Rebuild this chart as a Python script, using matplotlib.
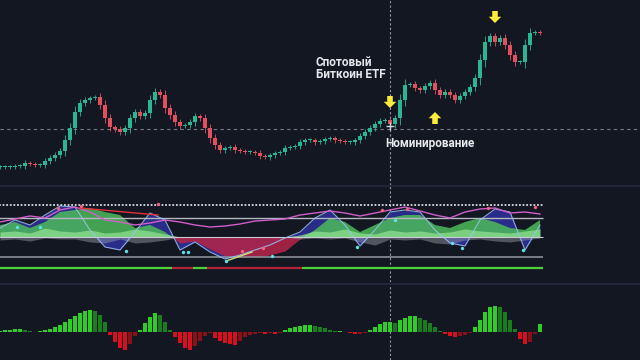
import numpy as np
import matplotlib.pyplot as plt
from matplotlib.lines import Line2D

# price closes, one candle per step (arbitrary units)
closes = [18, 18, 18, 19, 19, 22, 21, 20, 20, 24, 27, 30, 34, 45, 57, 73, 82, 85, 87, 88,
          80, 67, 58, 56, 53, 57, 67, 73, 69, 72, 85, 93, 90, 77, 70, 63, 59, 60, 63, 69,
          67, 57, 47, 40, 35, 37, 38, 35, 34, 33, 33, 32, 29, 28, 30, 32, 33, 37, 38, 39,
          43, 45, 45, 43, 44, 46, 47, 45, 44, 43, 43, 45, 49, 53, 57, 61, 64, 65, 61, 67,
          85, 100, 101, 97, 95, 99, 102, 95, 90, 93, 90, 85, 89, 93, 98, 107, 125, 143, 149, 143,
          147, 140, 130, 123, 123, 140, 152, 153, 152]

# histogram (momentum) per candle
hist = [1, 2, 2, 3, 3, 2, 1, 0.5, 1, 2, 3, 5, 7, 10, 13, 16, 19, 21, 22, 21,
        17, 10, -3, -10, -16, -18, -12, -4, 2, 9, 15, 19, 17, 10, 2, -5, -11, -16, -18, -14,
        -9, -4, -1, -6, -9, -11, -12, -13, -9, -5, -3, -2, -1, -2, -1, -2, -1, 2, 4, 5,
        6, 7, 7, 6, 5, 4, 2, 1, 1, 0.5, -1, -2, -1.5, -0.5, 2, 5, 8, 10, 10, 9,
        12, 14, 16, 16, 14, 12, 9, 5, 1, -2, -4, -5, -4, -3, -1, 5, 12, 20, 25, 26,
        25, 20, 12, 3, -7, -12, -10, -2, 8]

# oscillator lines, one value every 3 candles
osc_fast = [9, 17, 12, 22, 31, 30, 7, -10, -13, 5, 24, 17, -13, -5, -15, -22, -18, -13, -8,
            -1, 5, 19, 27, 12, -9, 7, 25, 27, 25, 7, -6, -9, 17, 28, 25, -13, 12]
osc_slow = [12, 15, 9, 15, 25, 27, 29, 25, 22, 9, 12, 5, -6, -4, -12, -19, -20, -20, -18,
            -14, -2, 7, 19, 15, 5, 12, 19, 22, 22, 12, 9, 15, 19, 15, 9, 7, 17]
osc_pink = [15, 18, 21, 19, 27, 30, 25, 17, 15, 12, 14, 17, 15, 12, 10, 11, 13, 16, 17,
            18, 22, 24, 26, 24, 21, 24, 27, 30, 26, 22, 19, 25, 28, 29, 24, 25, 23]
osc_band = [5, 6, 4, 9, 6, 5, 7, 4, 5, 8, 6, 3, 0, 0, 0, 0, 0, 0, 0,
            0, 2, 6, 5, 8, 4, 3, 7, 5, 6, 4, 5, 8, 6, 5, 4, 6, 8]
osc_under = [-3, -2, -4, -1, -2, -2, -5, -6, -2, -6, -5, -3, 0, 0, 0, 0, 0, 0, 0,
             0, -2, -1, -2, -1, -5, -8, -2, -3, -2, -6, -7, -3, -2, -4, -5, -3, -1]

min_dots_x = [3.4, 8, 25.2, 36.6, 37.6, 45.2, 54.4, 71.4, 79, 90.4, 92.4, 104.6]
min_dots_y = [10, 10, -14, -15, -15, -24, -19, -10, 17, -6, -11, -13]
max_dots_x = [11.6, 16.2, 31.6, 48.4, 52.6, 76.4, 81.4, 97.6, 107]
max_dots_y = [29, 31, 33, -14, -11, 27, 28, 29, 30]
div_x = [16, 31.6]
div_y = [29, 22]
div2_x = [45.2, 50.4]
div2_y = [-24, -15]

signal_edges = [-1, 34.4, 38.6, 41.4, 60.4, 108.6]
signal_bull = [True, False, True, False, True]

bg = '#131722'
green, red = '#2bb592', '#e2505e'

fig = plt.figure(figsize=(6.4, 3.6), dpi=100, facecolor=bg)
ax1 = fig.add_axes([0, 175 / 360, 1, 185 / 360])
ax2 = fig.add_axes([0, 78 / 360, 1, 96 / 360])
ax3 = fig.add_axes([0, 0, 1, 74 / 360])
for ax in (ax1, ax2, ax3):
    ax.set_facecolor(bg)
    ax.set_axis_off()
    ax.set_xlim(0, 128)
    ax.axvline(78, color='#9598a1', lw=0.8, ls=(0, (2, 2)), zorder=1)

# --- price panel
c = np.array(closes, dtype=float)
o = np.r_[c[0], c[:-1]]
x = np.arange(len(c))
up = c >= o
cols = np.where(up, green, red)
lo = np.minimum(o, c)
hi = np.maximum(o, c)
ax1.vlines(x, lo - 2 - 0.25 * (hi - lo), hi + 2 + 0.25 * (hi - lo), colors=cols, lw=0.6, zorder=3)
ax1.bar(x, np.maximum(hi - lo, 0.8), bottom=lo, width=0.7, color=cols, zorder=4)
ax1.set_ylim(0, 185)
ax1.axhline(56, color='#787b86', lw=0.8, ls=(0, (3, 3)), zorder=1)
ax1.plot(78, 59, marker='+', color='#d1d4dc', ms=6, mew=1, zorder=5)

arrow = dict(arrowstyle='simple,head_length=0.45,head_width=0.9,tail_width=0.4',
             color='#ffeb3b', lw=0, shrinkA=0, shrinkB=0)
ax1.annotate('', xy=(78, 77), xytext=(78, 89), arrowprops=arrow, zorder=6)
ax1.annotate('', xy=(87, 73), xytext=(87, 61), arrowprops=arrow, zorder=6)
ax1.annotate('', xy=(99, 162), xytext=(99, 174), arrowprops=arrow, zorder=6)

tkw = dict(color='#e6e8ee', fontsize=8.5, fontweight='bold', family=['Roboto', 'DejaVu Sans'],
           va='center', ha='left', zorder=7)
ax1.text(63.2, 122, 'Спотовый', **tkw)
ax1.text(63.2, 110, 'Биткоин ETF', **tkw)
ax1.text(77, 42, 'Номинирование', **tkw)

# --- oscillator panel
xo = np.arange(len(osc_fast)) * 3
fast = np.array(osc_fast, dtype=float)
slow = np.array(osc_slow, dtype=float)
ax2.set_ylim(-45, 51)
ax2.fill_between(xo, fast, 0, color='#2b2f8f', alpha=0.95, lw=0, zorder=2)
ax2.fill_between(xo, slow, 0, where=slow >= 0, interpolate=True, color='#4cbb5a', alpha=0.85, lw=0, zorder=3)
ax2.fill_between(xo, slow, 0, where=slow <= 0, interpolate=True, color='#b3244a', alpha=0.88, lw=0, zorder=3)
ax2.fill_between(xo, osc_band, 0, color='#8fe08f', alpha=0.75, lw=0, zorder=4)
ax2.fill_between(xo, osc_under, 0, color='#9ea2ad', alpha=0.45, lw=0, zorder=4)
ax2.plot(xo, fast, color='#9cc3f0', lw=0.8, alpha=0.85, zorder=6)
ax2.plot(xo, osc_pink, color='#cf5fc9', lw=1.0, zorder=6)
ax2.plot(div_x, div_y, color='#e0303a', lw=1.0, zorder=6)
ax2.plot(div2_x, div2_y, color='#c9e37a', lw=1.0, zorder=6)
ax2.scatter(min_dots_x, min_dots_y, s=6, color='#5fe0e8', zorder=7, lw=0)
ax2.scatter(max_dots_x, max_dots_y, s=6, color='#f06080', zorder=7, lw=0)
ax2.hlines(32, -1, 108.6, color='#d9dce3', lw=1.3, ls=(0, (1, 1)), zorder=5)
ax2.hlines(19, -1, 108.6, color='#b4b7bf', lw=1.0, zorder=5)
ax2.hlines(0, -1, 108.6, color='#c8cbd2', lw=0.8, zorder=5)
ax2.hlines(-20, -1, 108.6, color='#8c8f97', lw=1.2, zorder=5)
for a, b, bull in zip(signal_edges[:-1], signal_edges[1:], signal_bull):
    ax2.hlines(-31, a, b, color='#4cd13a' if bull else '#b3243a', lw=1.6, zorder=5)

# --- histogram panel
h = np.array(hist, dtype=float)
prev = np.r_[h[0], h[:-1]]
hcols = np.where(h >= 0, np.where(h >= prev, '#2fcc2a', '#1a7d1d'),
                 np.where(h <= prev, '#d6101c', '#8a1018'))
ax3.bar(np.arange(len(h)), h, width=0.85, color=hcols, zorder=3)
ax3.set_ylim(-28, 46)

for yy in (1 - 186 / 360, 1 - 284 / 360):
    fig.add_artist(Line2D([0, 1], [yy, yy], transform=fig.transFigure, color='#22263a', lw=1.5))

fig.savefig('out.png', dpi=100, facecolor=bg)
